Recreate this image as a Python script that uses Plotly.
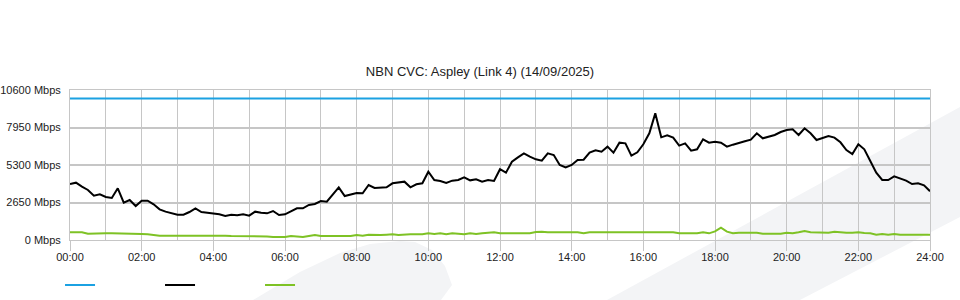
import numpy as np
import plotly.graph_objects as go

TITLE = "NBN CVC: Aspley (Link 4) (14/09/2025)"

# time of day in hours, 10-minute samples from 00:00 to 24:00
HOURS = np.arange(145) / 6.0

CAPACITY_MBPS = 10000
CAPACITY_X = [0, 24]

TRAFFIC_MBPS = [
    3957, 4052, 3769, 3533, 3133, 3227, 3039, 2968, 3651, 2638,
    2827, 2403, 2780, 2780, 2520, 2167, 2002, 1884, 1790, 1790,
    1979, 2238, 1979, 1932, 1884, 1814, 1696, 1790, 1743, 1814,
    1720, 2002, 1932, 1884, 2049, 1767, 1814, 2049, 2238, 2238,
    2473, 2544, 2756, 2709, 3227, 3722, 3109, 3227, 3321, 3298,
    3887, 3675, 3698, 3722, 4005, 4052, 4122, 3722, 3934, 4005,
    4829, 4240, 4169, 4028, 4193, 4240, 4428, 4216, 4287, 4122,
    4240, 4169,
    5000, 4758, 5536, 5842, 6125, 5889, 5700, 5606, 6125, 6007,
    5300, 5135, 5300, 5653, 5677, 6172, 6337, 6242, 6596, 6172,
    6879, 6831, 5960, 6195, 6761, 7538, 8950, 7255, 7397, 7232,
    6667, 6831, 6313, 6407, 7114, 6879, 6949, 6879, 6596, 6737,
    6879, 6973, 7090, 7538, 7185, 7302, 7420, 7632, 7773, 7821,
    7420, 7891, 7538, 7067, 7185, 7350, 7232, 6902, 6360, 6077,
    6761, 6407, 5583, 4758, 4240, 4240, 4499, 4334, 4193, 3957,
    4005, 3863, 3450,
]

SECONDARY_MBPS = [
    542, 542, 542, 450, 471, 471, 471, 471, 471, 420,
    447, 471, 420, 400, 350, 306, 306, 306, 353, 306,
    353, 353, 353, 353, 353, 353, 306, 283, 283, 283,
    283, 283, 283, 250, 212, 212, 212, 283, 236, 212,
    280, 353, 283, 283, 283, 283, 283, 283, 353, 300,
    377, 353, 353, 377, 400, 353, 400, 400, 400, 400,
    471, 424, 471, 400, 471, 424, 400, 471, 424, 471,
    518, 542,
    471, 471, 471, 471, 518, 471, 560, 589, 542, 542,
    542, 542, 542, 542, 471, 542, 542, 542, 542, 542,
    542, 542, 542, 542, 542, 518, 518, 518, 518, 542,
    471, 471, 471, 471, 542, 471, 610, 870, 590, 471,
    518, 518, 518, 518, 447, 447, 447, 447, 518, 471,
    542, 636, 542, 520, 518, 520, 589, 542, 518, 518,
    542, 500, 471, 377, 424, 377, 424, 377, 377, 377,
    377, 377, 377,
]

Y_TICKS = [0, 2650, 5300, 7950, 10600]
Y_LABELS = ["0 Mbps", "2650 Mbps", "5300 Mbps", "7950 Mbps", "10600 Mbps"]
X_TICKS = [0, 2, 4, 6, 8, 10, 12, 14, 16, 18, 20, 22, 24]
X_LABELS = ["00:00", "02:00", "04:00", "06:00", "08:00", "10:00", "12:00",
            "14:00", "16:00", "18:00", "20:00", "22:00", "24:00"]

BLUE = "#1ba1e2"
BLACK = "#000000"
GREEN = "#7ec225"
GRID = "#c6c6c6"
SWOOSH = "#f3f4f6"

fig = go.Figure()
fig.add_trace(go.Scatter(x=CAPACITY_X, y=[CAPACITY_MBPS, CAPACITY_MBPS], mode="lines",
                         name=" ", line=dict(color=BLUE, width=2)))
fig.add_trace(go.Scatter(x=HOURS, y=TRAFFIC_MBPS, mode="lines", name=" ",
                         line=dict(color=BLACK, width=2)))
fig.add_trace(go.Scatter(x=HOURS, y=SECONDARY_MBPS, mode="lines", name=" ",
                         line=dict(color=GREEN, width=2)))

# background decoration (watermark swooshes), in paper coordinates
swoosh1 = ("M 0.2128,-0.4 L 0.2674,-0.2133 L 0.3140,-0.0867 L 0.3488,-0.0267 "
           "L 0.3837,-0.0067 L 0.4012,-0.0133 L 0.4209,-0.0667 L 0.4360,-0.1733 "
           "L 0.4442,-0.3 L 0.4314,-0.4 Z")
swoosh2 = "M 0.6244,-0.4 L 1.0349,0.8867 L 1.0349,0.1533 L 0.8488,-0.4 Z"
shapes = [
    dict(type="path", path=swoosh1, xref="paper", yref="paper", layer="below",
         fillcolor=SWOOSH, line=dict(width=0)),
    dict(type="path", path=swoosh2, xref="paper", yref="paper", layer="below",
         fillcolor=SWOOSH, line=dict(width=0)),
]

font_family = "Liberation Sans, Arial, sans-serif"

fig.update_layout(
    width=960, height=300,
    margin=dict(l=70, r=30, t=90, b=60, autoexpand=False),
    paper_bgcolor="white",
    plot_bgcolor="rgba(0,0,0,0)",
    font=dict(family=font_family, size=11, color="#222222"),
    title=dict(text=TITLE, x=0.5, xanchor="center", xref="container",
               y=1 - 71 / 300, yref="container", yanchor="middle",
               font=dict(family=font_family, size=13, color="#222222")),
    shapes=shapes,
    showlegend=True,
    legend=dict(orientation="h", x=-0.0116, xanchor="left", y=-0.3, yanchor="middle",
                entrywidth=55, entrywidthmode="pixels",
                bgcolor="rgba(0,0,0,0)", font=dict(size=11)),
    hovermode=False,
)

fig.update_xaxes(
    range=[0, 24], tickvals=X_TICKS, ticktext=X_LABELS, automargin=False,
    showgrid=True, gridcolor=GRID, gridwidth=1,
    ticks="outside", ticklen=10, tickcolor=GRID, tickwidth=1, ticklabelstandoff=-3,
    minor=dict(tick0=0, dtick=1, showgrid=True, gridcolor=GRID, gridwidth=1, ticks=""),
    showline=True, linecolor=GRID, linewidth=1, mirror=True,
    zeroline=False, tickfont=dict(size=11, color="#222222"),
)
fig.update_yaxes(
    range=[0, 10600], tickvals=Y_TICKS, ticktext=Y_LABELS, automargin=False,
    showgrid=True, gridcolor=GRID, gridwidth=2,
    ticks="", ticklabelstandoff=6,
    showline=True, linecolor=GRID, linewidth=1, mirror=True,
    zeroline=False, tickfont=dict(size=11, color="#222222"),
)

fig.write_html("out.html")
